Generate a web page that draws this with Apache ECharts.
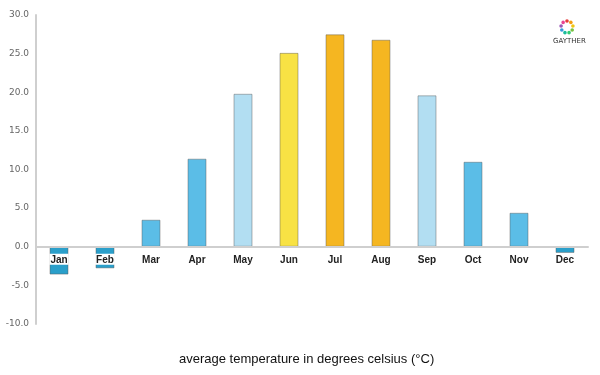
<!DOCTYPE html>
<html>
<head>
    <meta charset="utf-8">
    <script src="https://cdn.jsdelivr.net/npm/echarts@6/dist/echarts.min.js"></script>
</head>
<body style="margin:0">
    <div id="main" style="width:600px;height:375px"></div>

    <script type="text/javascript">
        var months = ['Jan', 'Feb', 'Mar', 'Apr', 'May', 'Jun', 'Jul', 'Aug', 'Sep', 'Oct', 'Nov', 'Dec'];
        var temps = [-3.6, -2.8, 3.5, 11.4, 19.8, 25.1, 27.5, 26.8, 19.6, 11.0, 4.4, -0.8];
        var barColors = ['#2a9fca', '#2a9fca', '#5bbde7', '#5bbde7', '#b2def2', '#f8e244', '#f5b621',
                         '#f5b621', '#b2def2', '#5bbde7', '#5bbde7', '#2a9fca'];
        var logoDots = ['#e63b3b', '#f39c12', '#f1c40f', '#7ac142', '#2ecc71', '#1abc9c', '#3498db', '#9b59b6', '#e84393'];

        var myChart = echarts.init(document.getElementById('main'));

        // logo ring of dots + name, top right
        var logo = [];
        for (var i = 0; i < logoDots.length; i++) {
            var a = i / logoDots.length * Math.PI * 2 - Math.PI / 2;
            logo.push({
                type: 'circle',
                shape: { cx: 567 + Math.cos(a) * 6, cy: 27 + Math.sin(a) * 6, r: 1.8 },
                style: { fill: logoDots[i] }
            });
        }
        logo.push({
            type: 'text', left: 553, top: 38,
            style: { text: 'GAYTHER', fill: '#333', font: '7px "DejaVu Sans"' }
        });

        var option = {
            animation: false,
            title: {
                text: 'average temperature in degrees celsius (°C)',
                left: 174, top: 348,
                textStyle: { color: '#111', fontSize: 13, fontWeight: 'normal', fontFamily: 'Liberation Sans' }
            },
            grid: { left: 36, right: 12, top: 15, bottom: 51, outerBoundsMode: 'none' },
            xAxis: {
                type: 'category',
                data: months,
                z: 5,
                // axis drawn at the zero line (grid bottom 324 -> zero at ~246.75)
                offset: -77.25,
                axisLine: { onZero: false, lineStyle: { color: '#cfcfcf', width: 2 } },
                axisTick: { show: false },
                axisLabel: {
                    color: '#222', fontSize: 10, fontWeight: 'bold', fontFamily: 'Liberation Sans',
                    margin: 7, backgroundColor: '#fff', padding: [1, 1, 0, 1]
                }
            },
            yAxis: {
                type: 'value',
                min: -10, max: 30, interval: 5,
                axisLine: { show: true, lineStyle: { color: '#cfcfcf', width: 2 } },
                axisTick: { show: false },
                splitLine: { show: false },
                axisLabel: {
                    color: '#666', fontSize: 9, fontFamily: 'DejaVu Sans', margin: 7,
                    formatter: function (v) { return v.toFixed(1); }
                }
            },
            series: [{
                type: 'bar',
                barWidth: 19,
                data: temps.map(function (v, i) {
                    return { value: v, itemStyle: { color: barColors[i] } };
                }),
                itemStyle: { borderColor: 'rgba(90,90,90,0.45)', borderWidth: 1 }
            }],
            graphic: logo
        };

        myChart.setOption(option);
    </script>
</body>
</html>
